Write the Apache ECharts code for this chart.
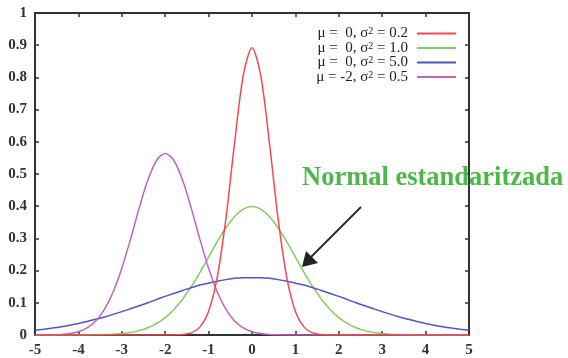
<!DOCTYPE html>
<html>
<head>
<meta charset="utf-8">
<script src="https://cdn.jsdelivr.net/npm/echarts@6/dist/echarts.min.js"></script>
<style>
  html, body { margin: 0; padding: 0; background: #fff; }
  #chart { width: 568px; height: 358px; }
</style>
</head>
<body>
<div id="chart"></div>
<script>
// x samples, step 0.2 from -5 to 5
const xs = [];
for (let i = 0; i <= 50; i++) xs.push(Math.round((-5 + 0.2 * i) * 10) / 10);

// densities
const red = [0, 0, 0, 0, 0, 0, 0, 0, 0, 0, 0, 0, 0, 0, 0, 0,
  0.0003, 0.0015, 0.0066, 0.0244, 0.0732, 0.180, 0.363, 0.598, 0.807,
  0.892,
  0.807, 0.598, 0.363, 0.180, 0.0732, 0.0244, 0.0066, 0.0015, 0.0003,
  0, 0, 0, 0, 0, 0, 0, 0, 0, 0, 0, 0, 0, 0, 0, 0];
const green = [0, 0, 0, 0, 0.0001, 0.0001, 0.0003, 0.0006, 0.0012, 0.0024,
  0.0044, 0.0079, 0.0136, 0.0224, 0.0355, 0.054, 0.079, 0.111, 0.150, 0.194,
  0.242, 0.290, 0.333, 0.368, 0.391,
  0.399,
  0.391, 0.368, 0.333, 0.290, 0.242, 0.194, 0.150, 0.111, 0.079, 0.054,
  0.0355, 0.0224, 0.0136, 0.0079, 0.0044, 0.0024, 0.0012, 0.0006, 0.0003, 0.0001,
  0.0001, 0, 0, 0, 0];
const blue = [0.0146, 0.0178, 0.0215, 0.0257, 0.0306, 0.0360, 0.0421, 0.0488, 0.0561, 0.0641,
  0.0725, 0.0815, 0.0907, 0.100, 0.110, 0.120, 0.129, 0.138, 0.147, 0.155,
  0.161, 0.167, 0.172, 0.176, 0.178,
  0.178,
  0.178, 0.176, 0.172, 0.167, 0.161, 0.155, 0.147, 0.138, 0.129, 0.120,
  0.110, 0.100, 0.0907, 0.0815, 0.0725, 0.0641, 0.0561, 0.0488, 0.0421, 0.0360,
  0.0306, 0.0257, 0.0215, 0.0178, 0.0146];
const magenta = [0.0001, 0.0002, 0.0007, 0.0018, 0.0045, 0.0103, 0.0221, 0.0436, 0.0795, 0.1337,
  0.2076, 0.297, 0.394, 0.481, 0.542, 0.564, 0.542, 0.481, 0.394, 0.297,
  0.2076, 0.1337, 0.0795, 0.0436, 0.0221, 0.0103, 0.0045, 0.0018, 0.0007, 0.0002,
  0.0001, 0, 0, 0, 0, 0, 0, 0, 0, 0,
  0, 0, 0, 0, 0, 0, 0, 0, 0, 0, 0];

const names = ['a', 'b', 'c', 'd'];
const legendText = {
  a: ['μ =  0, σ', '2', ' = 0.2'],
  b: ['μ =  0, σ', '2', ' = 1.0'],
  c: ['μ =  0, σ', '2', ' = 5.0'],
  d: ['μ = -2, σ', '2', ' = 0.5']
};
const colors = ['#f04a50', '#82cc62', '#5252c0', '#c462c0'];
const values = [red, green, blue, magenta];

const font = 'Liberation Serif';
const axisColor = '#333';

const chart = echarts.init(document.getElementById('chart'));

const series = names.map((n, k) => ({
  name: n,
  type: 'line',
  data: xs.map((x, i) => [x, values[k][i]]),
  smooth: 0.3,
  showSymbol: false,
  lineStyle: { color: colors[k], width: 1.5 },
  itemStyle: { color: colors[k] },
  z: k === 0 ? 5 : 3
}));

const boxAxis = {
  axisLine: { show: true, onZero: false, lineStyle: { color: axisColor, width: 2 } },
  axisTick: { show: true, inside: true, length: 4, lineStyle: { color: axisColor, width: 1.5 } },
  splitLine: { show: false }
};

chart.setOption({
  animation: false,
  grid: { left: 35, right: 99, top: 13, bottom: 23 },
  xAxis: [
    Object.assign({
      type: 'value', min: -5, max: 5, interval: 1,
      axisLabel: { color: axisColor, fontFamily: font, fontSize: 15, fontWeight: 'bold', margin: 8 }
    }, boxAxis),
    Object.assign({
      type: 'value', min: -5, max: 5, interval: 1, position: 'top',
      axisLabel: { show: false }
    }, boxAxis)
  ],
  yAxis: [
    Object.assign({
      type: 'value', min: 0, max: 1, interval: 0.1,
      axisLabel: { color: axisColor, fontFamily: font, fontSize: 15, fontWeight: 'bold', margin: 8 }
    }, boxAxis),
    Object.assign({
      type: 'value', min: 0, max: 1, interval: 0.1, position: 'right',
      axisLabel: { show: false }
    }, boxAxis)
  ],
  legend: {
    orient: 'vertical',
    right: 112,
    top: 26,
    align: 'right',
    itemGap: -3,
    itemWidth: 39,
    itemHeight: 14,
    padding: 0,
    icon: 'path://M0,6H40V8H0Z',
    data: names,
    formatter: n => '{m|' + legendText[n][0] + '}{s|' + legendText[n][1] + '}{m|' + legendText[n][2] + '}',
    textStyle: {
      width: 100,
      align: 'right',
      padding: [0, 4, 0, 0],
      color: '#222',
      fontFamily: font,
      fontSize: 15,
      lineHeight: 14,
      rich: {
        m: { fontFamily: font, fontSize: 15, lineHeight: 14, color: '#222', align: 'right' },
        s: { fontFamily: font, fontSize: 10, lineHeight: 14, color: '#222', verticalAlign: 'top', padding: [0, 0, 7, 0], align: 'right' }
      }
    }
  },
  graphic: [
    {
      type: 'text', left: 302, top: 165,
      style: { text: 'Normal estandaritzada', fill: '#4cb84a', font: 'bold 26.5px "Liberation Serif"' },
      z: 10
    },
    {
      type: 'line',
      shape: { x1: 361, y1: 207, x2: 310, y2: 258 },
      style: { stroke: '#222', lineWidth: 1.8 },
      z: 10
    },
    {
      type: 'polygon',
      shape: { points: [[302, 267], [306, 251], [318, 263]] },
      style: { fill: '#222' },
      z: 10
    }
  ],
  series: series
});
</script>
</body>
</html>
